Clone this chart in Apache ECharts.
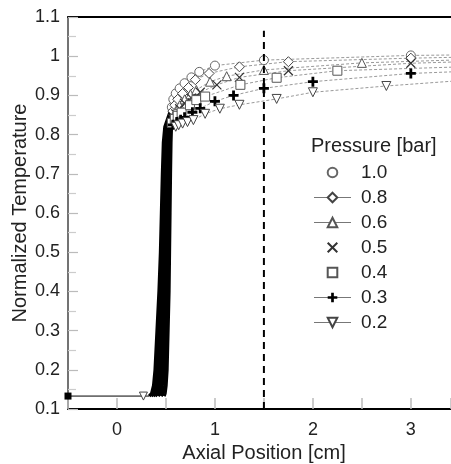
<!DOCTYPE html>
<html><head><meta charset="utf-8">
<script src="https://cdn.jsdelivr.net/npm/echarts@6/dist/echarts.min.js"></script>
<style>html,body{margin:0;padding:0;background:#fff}#c{width:451px;height:464px}</style>
</head><body><div id="c"></div>
<script>
// ---- data ----
const pressures = ['1.0', '0.8', '0.6', '0.5', '0.4', '0.3', '0.2'];
// downstream markers
const x10 = [0.56, 0.575, 0.60, 0.64, 0.69, 0.76, 0.84, 1.0, 1.5, 3.0];
const y10 = [0.87, 0.89, 0.905, 0.918, 0.931, 0.946, 0.96, 0.976, 0.99, 1.002];
const x08 = [0.57, 0.59, 0.62, 0.67, 0.73, 0.80, 0.94, 1.25, 1.75, 3.0];
const y08 = [0.86, 0.875, 0.89, 0.905, 0.92, 0.94, 0.956, 0.973, 0.986, 0.995];
const x06 = [0.57, 0.60, 0.64, 0.69, 0.75, 0.81, 0.95, 1.12, 1.5, 2.5];
const y06 = [0.845, 0.86, 0.875, 0.89, 0.903, 0.914, 0.935, 0.949, 0.965, 0.983];
const x05 = [0.57, 0.60, 0.64, 0.69, 0.76, 0.85, 1.02, 1.25, 1.75, 3.0];
const y05 = [0.84, 0.853, 0.866, 0.88, 0.893, 0.908, 0.927, 0.946, 0.963, 0.982];
const x04 = [0.56, 0.59, 0.62, 0.66, 0.745, 0.81, 0.90, 1.26, 1.63, 2.25];
const y04 = [0.83, 0.84, 0.848, 0.856, 0.875, 0.888, 0.897, 0.927, 0.945, 0.963];
const x03 = [0.57, 0.61, 0.65, 0.69, 0.77, 0.85, 1.0, 1.19, 1.5, 2.0, 3.0];
const y03 = [0.825, 0.832, 0.838, 0.844, 0.857, 0.867, 0.885, 0.90, 0.918, 0.935, 0.956];
const x02 = [0.60, 0.63, 0.67, 0.72, 0.78, 0.90, 1.05, 1.25, 1.63, 2.0, 2.75];
const y02 = [0.82, 0.824, 0.828, 0.832, 0.837, 0.853, 0.866, 0.876, 0.891, 0.908, 0.924];
// fitted curve value at right edge
const trendEndX = 3.41;
const trendEnd = [1.003, 0.997, 0.99, 0.985, 0.972, 0.96, 0.936];
// steep rise (dense overlapping markers)
const riseY = [0.133, 0.14, 0.16, 0.2, 0.3, 0.4, 0.5, 0.6, 0.7, 0.78, 0.82];
const riseX10 = [0.33, 0.355, 0.375, 0.39, 0.41, 0.43, 0.445, 0.455, 0.465, 0.475, 0.49];
const riseX08 = [0.35, 0.375, 0.395, 0.41, 0.43, 0.445, 0.46, 0.47, 0.48, 0.49, 0.50];
const riseX06 = [0.37, 0.395, 0.415, 0.43, 0.45, 0.465, 0.475, 0.485, 0.495, 0.50, 0.51];
const riseX05 = [0.39, 0.415, 0.435, 0.45, 0.47, 0.48, 0.49, 0.50, 0.51, 0.515, 0.52];
const riseX04 = [0.42, 0.44, 0.455, 0.47, 0.485, 0.495, 0.505, 0.515, 0.52, 0.525, 0.53];
const riseX03 = [0.45, 0.465, 0.48, 0.49, 0.505, 0.515, 0.52, 0.53, 0.535, 0.54, 0.545];
const riseX02 = [0.48, 0.49, 0.50, 0.51, 0.52, 0.53, 0.535, 0.54, 0.545, 0.55, 0.555];
// inlet section
const inletX = [-0.5, 0.27, 0.33];
const inletY = [0.133, 0.133, 0.133];
// reference line
const refLineX = 1.5;
const refLineY = [0.1, 1.065];
// axis ranges
const xMin = -0.5, xMax = 3.41, yMin = 0.1, yMax = 1.1;

// ---- build ----
const FONT = '"Liberation Sans", Arial, sans-serif';
const xs = [x10, x08, x06, x05, x04, x03, x02];
const ys = [y10, y08, y06, y05, y04, y03, y02];
const rises = [riseX10, riseX08, riseX06, riseX05, riseX04, riseX03, riseX02];
const XPATH = 'path://M0,0L10,10M10,0L0,10';
const PLUS = 'path://M3.6,0H6.4V3.6H10V6.4H6.4V10H3.6V6.4H0V3.6H3.6Z';
const marks = [
  {symbol: 'circle', size: 9, fill: '#fff', stroke: '#666', bw: 1},
  {symbol: 'diamond', size: 10, fill: '#fff', stroke: '#444', bw: 1},
  {symbol: 'triangle', size: 9, fill: '#fff', stroke: '#555', bw: 1},
  {symbol: XPATH, size: 9, fill: '#fff', stroke: '#333', bw: 1.2},
  {symbol: 'rect', size: 9, fill: '#fff', stroke: '#555', bw: 1},
  {symbol: PLUS, size: 10, fill: '#000', stroke: '#000', bw: 0},
  {symbol: 'triangle', size: 9, fill: '#fff', stroke: '#444', bw: 1, rotate: 180}
];
const legendLine = [false, true, true, false, false, true, true];

const series = [];
rises.forEach((rx, i) => {
  const d = rx.map((x, k) => [x, riseY[k]]);
  d.push([xs[i][0], ys[i][0]]);
  series.push({
    type: 'line', name: 'rise' + i, data: d, showSymbol: false, z: 3,
    lineStyle: {color: '#000', width: 3.5}, silent: true
  });
});
series.push({
  type: 'line', name: 'inlet', z: 4,
  data: inletX.map((x, k) => {
    const it = {value: [x, inletY[k]]};
    if (k === 0) { it.symbol = 'rect'; it.symbolSize = 7; it.itemStyle = {color: '#000', borderWidth: 0}; }
    else if (k === 1) { it.symbol = 'triangle'; it.symbolRotate = 180; it.symbolSize = 8; it.itemStyle = {color: '#fff', borderColor: '#444', borderWidth: 1}; }
    else { it.symbol = 'none'; }
    return it;
  }),
  lineStyle: {color: '#000', width: 1}
});
pressures.forEach((p, i) => {
  const m = marks[i];
  const d = xs[i].map((x, k) => [x, ys[i][k]]);
  d.push({value: [trendEndX, trendEnd[i]], symbol: 'none'});
  series.push({
    type: 'line', name: p, data: d, z: 5,
    symbol: m.symbol, symbolSize: m.size, symbolRotate: m.rotate || 0,
    showAllSymbol: true,
    itemStyle: {color: m.fill, borderColor: m.stroke, borderWidth: m.bw},
    lineStyle: {color: '#999', width: 1, type: [3, 2]}
  });
});
series.push({
  type: 'line', name: 'ref', z: 6, showSymbol: false, silent: true,
  data: refLineY.map(y => [refLineX, y]),
  lineStyle: {color: '#000', width: 2, type: [7, 5]}
});

const legendData = pressures.map((p, i) => ({
  name: p,
  lineStyle: legendLine[i] ? {color: '#777', width: 1, type: 'solid', opacity: 1} : {opacity: 0}
}));

const chart = echarts.init(document.getElementById('c'), null, {renderer: 'canvas'});
chart.setOption({
  animation: false,
  backgroundColor: '#fff',
  textStyle: {fontFamily: FONT},
  title: {
    text: 'Pressure [bar]', left: 311, top: 136, padding: 0,
    textStyle: {fontFamily: FONT, fontSize: 20, fontWeight: 'normal', color: '#222'}
  },
  legend: {
    data: legendData, orient: 'vertical', left: 313, top: 163,
    itemWidth: 37, itemHeight: 12, itemGap: 6, padding: 0,
    textStyle: {fontFamily: FONT, fontSize: 19, color: '#222', lineHeight: 17, padding: [0, 0, 0, 5]}
  },
  grid: {left: 68, right: 0, top: 17, bottom: 55, containLabel: false, outerBoundsMode: 'none'},
  xAxis: [{
    type: 'value', min: xMin, max: xMax, interval: 0.5,
    name: 'Axial Position [cm]', nameLocation: 'middle', nameGap: 34, nameMoveOverlap: false,
    nameTextStyle: {fontFamily: FONT, fontSize: 20, color: '#222', padding: [0, 0, 0, 9]},
    axisLine: {show: true, onZero: false, lineStyle: {color: '#000', width: 2}},
    axisTick: {show: true, inside: true, length: 11, lineStyle: {color: '#bbb', width: 1.5}},
    axisLabel: {
      fontFamily: FONT, fontSize: 18, color: '#222', margin: 12,
      formatter: v => (Math.abs(v - Math.round(v)) < 1e-6 && v >= 0 && v <= 3) ? String(Math.round(v)) : ''
    },
    splitLine: {show: false}
  }, {
    type: 'value', position: 'top', min: xMin, max: xMax,
    axisLine: {show: true, onZero: false, lineStyle: {color: '#000', width: 2}},
    axisTick: {show: false}, axisLabel: {show: false}, splitLine: {show: false}
  }],
  yAxis: {
    type: 'value', min: yMin, max: yMax, interval: 0.1,
    name: 'Normalized Temperature', nameLocation: 'middle', nameGap: 38, nameMoveOverlap: false,
    nameTextStyle: {fontFamily: FONT, fontSize: 20, color: '#222'},
    axisLine: {show: true, onZero: false, lineStyle: {color: '#444', width: 1.5}},
    axisTick: {show: true, inside: true, length: 10, lineStyle: {color: '#bbb', width: 1.2}},
    minorTick: {show: true, splitNumber: 2, length: 8, lineStyle: {color: '#ccc', width: 1.2}},
    axisLabel: {
      fontFamily: FONT, fontSize: 18, color: '#222', margin: 8,
      formatter: v => String(Math.round(v * 10) / 10)
    },
    splitLine: {show: false}
  },
  series: series
});
</script></body></html>
